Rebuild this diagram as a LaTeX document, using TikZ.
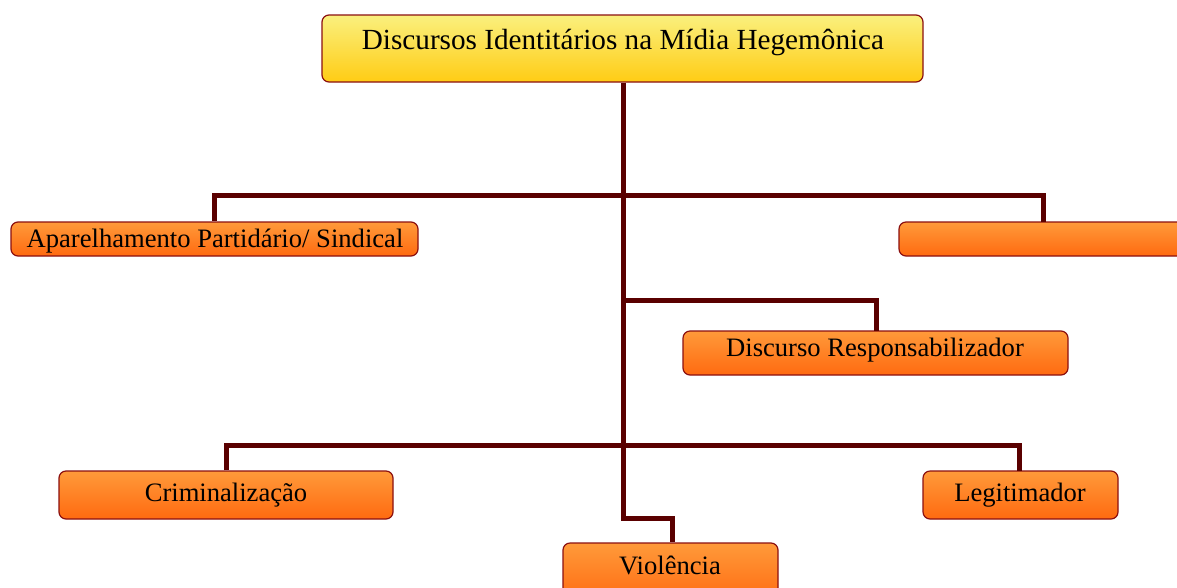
\documentclass[tikz,border=0pt]{standalone}
\usepackage{fontspec}
\setmainfont{Liberation Serif}
\usetikzlibrary{calc}
\definecolor{linkred}{HTML}{5A0000}
\definecolor{edgered}{HTML}{8B1010}
\definecolor{orangetop}{HTML}{FF9A3A}
\definecolor{orangebot}{HTML}{FF6A10}
\definecolor{yellowtop}{HTML}{FAF07E}
\definecolor{yellowbot}{HTML}{FFCC14}
\tikzset{
  box/.style={draw=edgered, line width=1.2pt, rounded corners=7pt,
    top color=orangetop, bottom color=orangebot, inner sep=0pt},
  rootbox/.style={box, top color=yellowtop, bottom color=yellowbot},
  lbl/.style={font=\fontsize{26.6}{28}\selectfont, inner sep=0pt},
  rootlbl/.style={font=\fontsize{29.2}{32}\selectfont, inner sep=0pt},
  link/.style={draw=linkred, line width=5pt}
}
\begin{document}
\begin{tikzpicture}[x=1pt,y=-1pt]
\useasboundingbox (0,0) rectangle (1177,587);
\clip (0,0) rectangle (1177,587);
% boxes
\node[rootbox, minimum width=601pt, minimum height=67pt] (root) at (622.5,48.5) {};
\node[rootlbl] at (623,42) {Discursos Identitários na Mídia Hegemônica};
\node[box, minimum width=407pt, minimum height=34pt] (apar) at (214.5,239) {};
\node[lbl] at (215,241) {Aparelhamento Partidário/ Sindical};
\node[box, minimum width=300pt, minimum height=34pt] (blank) at (1049,239) {};
\node[box, minimum width=385pt, minimum height=44pt] (resp) at (875.5,353) {};
\node[lbl] at (875,350) {Discurso Responsabilizador};
\node[box, minimum width=334pt, minimum height=48pt] (crim) at (226,495) {};
\node[lbl] at (226,495) {Criminalização};
\node[box, minimum width=195pt, minimum height=48pt] (legi) at (1020.5,495) {};
\node[lbl] at (1020,495) {Legitimador};
\node[box, minimum width=215pt, minimum height=60pt] (viol) at (670.5,573) {};
\node[lbl] at (670,565) {Violência};
% junction points on the trunk
\coordinate (j1) at (623,195);
\coordinate (j2) at (623,300);
\coordinate (j3) at (623,445);
\coordinate (jog) at (672,518);
\coordinate (blanktop) at (1043,222);
\coordinate (resptop) at (876,331);
\coordinate (legitop) at (1019,471);
% connectors
\draw[link] (root.south -| j1) -- (j3) |- (jog) -- (jog |- viol.north);
\draw[link] (apar.north) |- (j1) -| (blanktop);
\draw[link] (j2) -| (resptop);
\draw[link] (crim.north) |- (j3) -| (legitop);
\end{tikzpicture}
\end{document}
